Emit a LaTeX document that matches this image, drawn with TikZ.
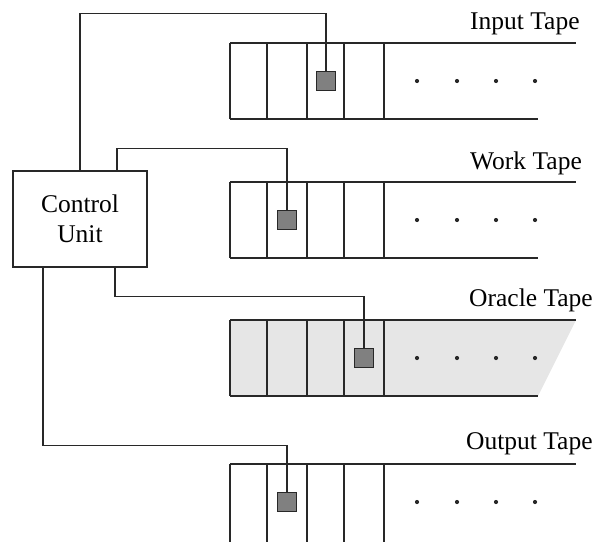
\documentclass[tikz,border=0pt]{standalone}
\usepackage{fontspec}
\setmainfont{Liberation Serif}
\usetikzlibrary{calc}
\definecolor{clrLn}{RGB}{40,40,40}
\definecolor{clrHd}{RGB}{128,128,128}
\definecolor{clrOr}{RGB}{230,230,230}

\begin{document}
\begin{tikzpicture}[x=1pt,y=-1pt,font=\fontsize{25.5}{30}\selectfont,
  ln/.style={draw=clrLn,line width=1.1pt},
  head/.style={draw=clrLn,line width=1pt,fill=clrHd,minimum size=19pt,inner sep=0pt},
  lbl/.style={anchor=base west,inner sep=0pt}]
  \useasboundingbox (0,0) rectangle (604,541);
  \def\tL{230} \def\tT{576} \def\tB{538}

  % --- oracle tape background ---
  \fill[clrOr] (\tL,320) -- (\tT,320) -- (\tB,396) -- (\tL,396) -- cycle;

  % --- tapes ---
  \foreach \t in {43,182,320}{
    \draw[ln] (\tL,\t) -- (\tT,\t);
    \draw[ln] (\tL,\t+76) -- (\tB,\t+76);
  }
  \draw[ln] (\tL,464) -- (\tT,464);
  \foreach \t/\h in {43/76,182/76,320/76,464/90}{
    \foreach \x in {230,267,307,344,384}
      \draw[ln] (\x,\t) -- (\x,\t+\h);
    \foreach \x in {417,457,496,535}
      \fill[clrLn] (\x,\t+38) circle (2.1);
  }

  % --- heads ---
  \node[head] (hin)  at (326,81)  {};
  \node[head] (hwk)  at (287,220) {};
  \node[head] (hor)  at (364,358) {};
  \node[head] (hout) at (287,502) {};

  % --- labels ---
  \node[lbl] (lin)  at (470,29)  {Input Tape};
  \node[lbl] (lwk)  at (470,169) {Work Tape};
  \node[lbl] (lor)  at (469,306) {Oracle Tape};
  \node[lbl] (lout) at (466,449) {Output Tape};

  % --- control unit ---
  \node[ln,fill=white,minimum width=134pt,minimum height=96pt,align=center,inner sep=0pt]
    (cu) at (80,219) {Control\\Unit};

  % --- wires ---
  \draw[ln] (cu.north) -- ++(0,-157) -| (hin.north);
  \draw[ln] ($(cu.north)+(37,0)$) -- ++(0,-22) -| (hwk.north);
  \draw[ln] ($(cu.south)+(35,0)$) -- ++(0,29) -| (hor.north);
  \draw[ln] ($(cu.south)+(-37,0)$) -- ++(0,178) -| (hout.north);
\end{tikzpicture}
\end{document}
